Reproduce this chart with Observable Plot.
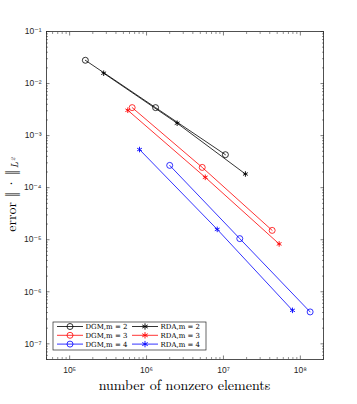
<!DOCTYPE html>
<html><head><meta charset="utf-8">
<script src="https://cdn.jsdelivr.net/npm/d3@7"></script>
<script src="https://cdn.jsdelivr.net/npm/@observablehq/plot@0.6"></script>
<style>body{margin:0;background:#fff}</style>
</head><body><div id="chart"></div>
<script>
// Data
const dgm2X = [1.6e5, 1.31e6, 1.06e7], dgm2Y = [2.8e-2, 3.45e-3, 4.3e-4];
const rda2X = [2.77e5, 2.5e6, 1.93e7], rda2Y = [1.58e-2, 1.73e-3, 1.83e-4];
const dgm3X = [6.5e5, 5.3e6, 4.3e7], dgm3Y = [3.45e-3, 2.45e-4, 1.51e-5];
const rda3X = [5.7e5, 5.8e6, 5.3e7], rda3Y = [3.07e-3, 1.58e-4, 8.3e-6];
const dgm4X = [2.0e6, 1.63e7, 1.34e8], dgm4Y = [2.68e-4, 1.05e-5, 4.1e-7];
const rda4X = [8.1e5, 8.3e6, 7.9e7], rda4Y = [5.4e-4, 1.58e-5, 4.4e-7];
const seriesNames = ["DGM", "RDA"];
const orders = [2, 3, 4];
const colors = ["#000000", "#ff0000", "#0000ff"];
const xTicks = [1e5, 1e6, 1e7, 1e8];
const yTicks = [1e-7, 1e-6, 1e-5, 1e-4, 1e-3, 1e-2, 1e-1];
const xLabel = "number of nonzero elements";

const raw = [
  ["DGM", 2, dgm2X, dgm2Y], ["RDA", 2, rda2X, rda2Y],
  ["DGM", 3, dgm3X, dgm3Y], ["RDA", 3, rda3X, rda3Y],
  ["DGM", 4, dgm4X, dgm4Y], ["RDA", 4, rda4X, rda4Y]
];
const rows = raw.flatMap(([s, m, xs, ys]) => xs.map((x, i) => ({
  method: s, m, key: s + m, x, y: ys[i], color: colors[orders.indexOf(m)]
})));

const xDomain = [5e4, 2e8], yDomain = [5e-8, 1e-1];
function minors(dom) {
  const out = [];
  for (let e = Math.floor(Math.log10(dom[0])); e <= Math.ceil(Math.log10(dom[1])); e++)
    for (let k = 2; k <= 9; k++) { const v = k * 10 ** e; if (v >= dom[0] && v <= dom[1]) out.push(v); }
  return out;
}
const xMinor = minors(xDomain), yMinor = minors(yDomain);
const supMap = {"-": "\u207B", "0": "\u2070", "1": "\u00B9", "2": "\u00B2", "3": "\u00B3", "4": "\u2074", "5": "\u2075", "6": "\u2076", "7": "\u2077", "8": "\u2078", "9": "\u2079"};
const fmt = d => "10" + String(Math.round(Math.log10(d))).split("").map(c => supMap[c]).join("");
const none = () => "";
const axCol = "#262626";
const sans = "'Liberation Sans', 'DejaVu Sans', Arial, sans-serif";

const plot = Plot.plot({
  width: 357, height: 404,
  marginLeft: 46, marginRight: 34, marginTop: 31, marginBottom: 45,
  x: {type: "log", domain: xDomain},
  y: {type: "log", domain: yDomain},
  color: {type: "identity"},
  style: {fontFamily: sans, fontSize: "8.5px", color: axCol, background: "#fff"},
  marks: [
    Plot.axisX(xTicks, {anchor: "bottom", tickSize: -3.5, tickFormat: fmt, tickPadding: 10.5, label: null, stroke: axCol, strokeWidth: 0.6}),
    Plot.axisX(xTicks, {anchor: "top", tickSize: -3.5, tickFormat: none, label: null, stroke: axCol, strokeWidth: 0.6}),
    Plot.axisX(xMinor, {anchor: "bottom", tickSize: -2, tickFormat: none, label: null, stroke: axCol, strokeWidth: 0.5}),
    Plot.axisX(xMinor, {anchor: "top", tickSize: -2, tickFormat: none, label: null, stroke: axCol, strokeWidth: 0.5}),
    Plot.axisY(yTicks, {anchor: "left", tickSize: -3.5, tickFormat: fmt, tickPadding: 8.5, label: null, stroke: axCol, strokeWidth: 0.6}),
    Plot.axisY(yTicks, {anchor: "right", tickSize: -3.5, tickFormat: none, label: null, stroke: axCol, strokeWidth: 0.6}),
    Plot.axisY(yMinor, {anchor: "left", tickSize: -2, tickFormat: none, label: null, stroke: axCol, strokeWidth: 0.5}),
    Plot.axisY(yMinor, {anchor: "right", tickSize: -2, tickFormat: none, label: null, stroke: axCol, strokeWidth: 0.5}),
    Plot.frame({stroke: axCol, strokeWidth: 0.8}),
    Plot.line(rows, {x: "x", y: "y", z: "key", stroke: "color", strokeWidth: 0.8}),
    Plot.dot(rows.filter(d => d.method === "DGM"), {x: "x", y: "y", r: 3, symbol: "circle", stroke: "color", fill: "none", strokeWidth: 0.8}),
    Plot.dot(rows.filter(d => d.method === "RDA"), {x: "x", y: "y", r: 2.6, symbol: "asterisk", stroke: "color", strokeWidth: 0.9})
  ]
});
document.getElementById("chart").appendChild(plot);

const svg = d3.select(plot);
svg.selectAll("text").filter(function () { return this.textContent === ""; }).remove();

function piece(g, str, x, y, size, family, italic) {
  const t = g.append("text").attr("x", x).attr("y", y)
    .attr("font-size", size + "px").attr("font-family", family)
    .attr("text-anchor", "start").text(str);
  if (italic) t.attr("font-style", "italic");
  return t;
}

const serif = "'Latin Modern Roman', 'Liberation Serif', 'DejaVu Serif', serif";
const W = 357, H = 404, mL = 46, mR = 34, mT = 31, mB = 45;
// x label
svg.append("text").attr("x", (mL + W - mR) / 2).attr("y", 390)
  .attr("text-anchor", "middle").attr("font-family", serif).attr("font-size", "14px").attr("fill", "#000")
  .text(xLabel);
// y label: error ‖·‖_{L²}
const yg = svg.append("g").attr("fill", "#000");
const p1 = piece(yg, "error \u2016\u2009·\u2009\u2016", 0, 0, 14, serif);
const l1 = p1.node().getComputedTextLength();
const p2 = piece(yg, "L\u00B2", l1 + 1.5, 2, 10, serif, true);
const l2 = p2.node().getComputedTextLength();
yg.attr("transform", `translate(16,${(mT + H - mB) / 2 + (l1 + l2 + 1.5) / 2}) rotate(-90)`);

// legend
const lg = svg.append("g").attr("fill", "#000");
lg.append("rect").attr("x", 53).attr("y", 322).attr("width", 153).attr("height", 28)
  .attr("fill", "#fff").attr("stroke", axCol).attr("stroke-width", 0.7);
const colX = [57, 132];
seriesNames.forEach((s, ci) => {
  orders.forEach((m, ri) => {
    const y = 326.5 + ri * 8.8, x0 = colX[ci], c = colors[ri];
    lg.append("line").attr("x1", x0).attr("x2", x0 + 26).attr("y1", y).attr("y2", y).attr("stroke", c).attr("stroke-width", 0.8);
    if (s === "DGM") lg.append("circle").attr("cx", x0 + 13).attr("cy", y).attr("r", 3).attr("fill", "none").attr("stroke", c).attr("stroke-width", 0.8);
    else lg.append("path").attr("d", d3.symbol(d3.symbolAsterisk, 28)()).attr("transform", `translate(${x0 + 13},${y})`).attr("stroke", c).attr("stroke-width", 0.9).attr("fill", "none");
    piece(lg, s + ",m = " + m, x0 + 28.5, y + 2.5, 7, "'DejaVu Serif', serif");
  });
});
</script>
</body></html>
